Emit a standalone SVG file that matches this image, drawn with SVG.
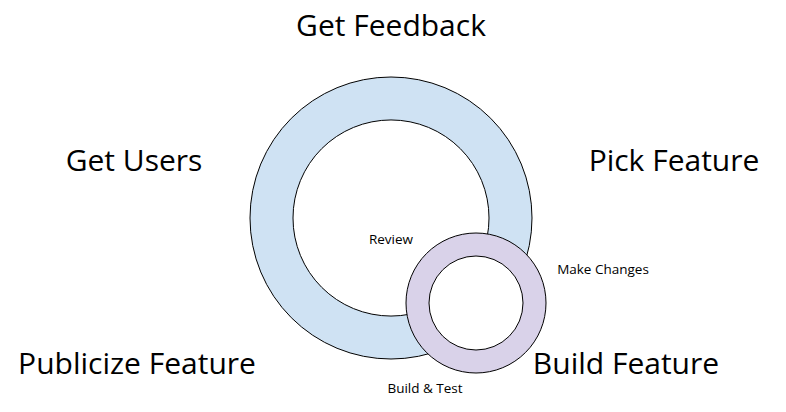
<svg xmlns="http://www.w3.org/2000/svg" width="786" height="412" viewBox="0 0 786 412">
<style>
.big{font-family:"Open Sans","Liberation Sans",sans-serif;font-size:30px;fill:#000;text-anchor:middle}
.small{font-family:"Open Sans","Liberation Sans",sans-serif;font-size:13.5px;fill:#000;text-anchor:middle}
.ring{stroke:#000;stroke-width:1;fill-rule:evenodd}
</style>
<rect width="786" height="412" fill="#fff"/>
<g id="outer-ring"><path class="ring" fill="#cfe2f3" d="M250,218a141,141 0 1,0 282,0a141,141 0 1,0 -282,0Z M293,218a98,98 0 1,0 196,0a98,98 0 1,0 -196,0Z"/></g>
<g id="inner-ring"><circle class="ring" cx="476" cy="303" r="70" fill="#d9d2e9"/><circle class="ring" cx="476" cy="303" r="47" fill="#fff"/></g>
<g id="connectors"></g>
<g id="get-feedback"><text class="big" x="391" y="36">Get Feedback</text></g>
<g id="get-users"><text class="big" x="134" y="171">Get Users</text></g>
<g id="pick-feature"><text class="big" x="674" y="171">Pick Feature</text></g>
<g id="publicize-feature"><text class="big" x="137" y="374">Publicize Feature</text></g>
<g id="build-feature"><text class="big" x="626" y="374">Build Feature</text></g>
<g id="review"><text class="small" x="391" y="244">Review</text></g>
<g id="make-changes"><text class="small" x="603" y="274">Make Changes</text></g>
<g id="build-test"><text class="small" x="425" y="393">Build &amp; Test</text></g>
</svg>
